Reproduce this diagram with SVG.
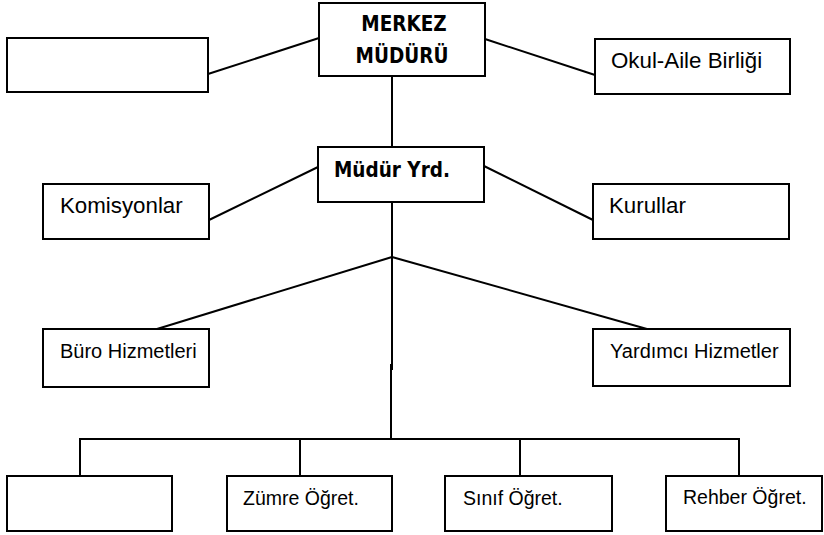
<svg xmlns="http://www.w3.org/2000/svg" width="824" height="535" viewBox="0 0 824 535">
<style>
.box{fill:#fff;stroke:#000;stroke-width:2}
.ln{stroke:#000;stroke-width:2;fill:none}
.t{font-family:"Liberation Sans",Arial,sans-serif;fill:#000}
.b{font-family:"DejaVu Sans Condensed","DejaVu Sans",sans-serif;font-weight:bold;font-stretch:condensed;fill:#000}
</style>
<rect width="824" height="535" fill="#fff"/>
<g id="connectors">
<line class="ln" x1="208" y1="74" x2="319" y2="38"/>
<line class="ln" x1="485" y1="39" x2="595" y2="75"/>
<line class="ln" x1="392" y1="76" x2="392" y2="147"/>
<line class="ln" x1="209" y1="220" x2="318" y2="167"/>
<line class="ln" x1="484" y1="166" x2="593" y2="220"/>
<line class="ln" x1="392" y1="202" x2="392" y2="370"/>
<line class="ln" x1="391" y1="364" x2="391" y2="439"/>
<line class="ln" x1="392" y1="257" x2="157" y2="329"/>
<line class="ln" x1="392" y1="257" x2="647" y2="329"/>
<polyline class="ln" points="80,476 80,439 739,439 739,476"/>
<line class="ln" x1="300" y1="439" x2="300" y2="476"/>
<line class="ln" x1="520" y1="439" x2="520" y2="476"/>
</g>
<g id="merkez">
<rect class="box" x="319" y="3" width="166" height="73"/>
<text class="b" x="404" y="31" font-size="20.5" text-anchor="middle">MERKEZ</text>
<text class="b" x="402" y="63" font-size="20.5" text-anchor="middle">MÜDÜRÜ</text>
</g>
<g id="empty-top">
<rect class="box" x="7" y="38" width="201" height="54"/>
</g>
<g id="okul-aile">
<rect class="box" x="595" y="39" width="195" height="55"/>
<text class="t" x="611" y="68" font-size="22.3">Okul-Aile Birliği</text>
</g>
<g id="mudur-yrd">
<rect class="box" x="318" y="147" width="166" height="55"/>
<text class="b" x="334" y="177" font-size="20.5">Müdür Yrd.</text>
</g>
<g id="komisyonlar">
<rect class="box" x="43" y="184" width="166" height="55"/>
<text class="t" x="60" y="213" font-size="22.3">Komisyonlar</text>
</g>
<g id="kurullar">
<rect class="box" x="593" y="184" width="196" height="55"/>
<text class="t" x="609" y="213" font-size="22.3">Kurullar</text>
</g>
<g id="buro">
<rect class="box" x="43" y="329" width="166" height="58"/>
<text class="t" x="60" y="358" font-size="20">Büro Hizmetleri</text>
</g>
<g id="yardimci">
<rect class="box" x="593" y="329" width="197" height="57"/>
<text class="t" x="610" y="358" font-size="20">Yardımcı Hizmetler</text>
</g>
<g id="empty-bottom">
<rect class="box" x="7" y="476" width="165" height="55"/>
</g>
<g id="zumre">
<rect class="box" x="227" y="476" width="165" height="55"/>
<text class="t" x="243" y="505" font-size="19.5">Zümre Öğret.</text>
</g>
<g id="sinif">
<rect class="box" x="445" y="476" width="167" height="55"/>
<text class="t" x="463" y="505" font-size="19.5">Sınıf Öğret.</text>
</g>
<g id="rehber">
<rect class="box" x="666" y="476" width="156" height="55"/>
<text class="t" x="683" y="504" font-size="19.5">Rehber Öğret.</text>
</g>
</svg>
